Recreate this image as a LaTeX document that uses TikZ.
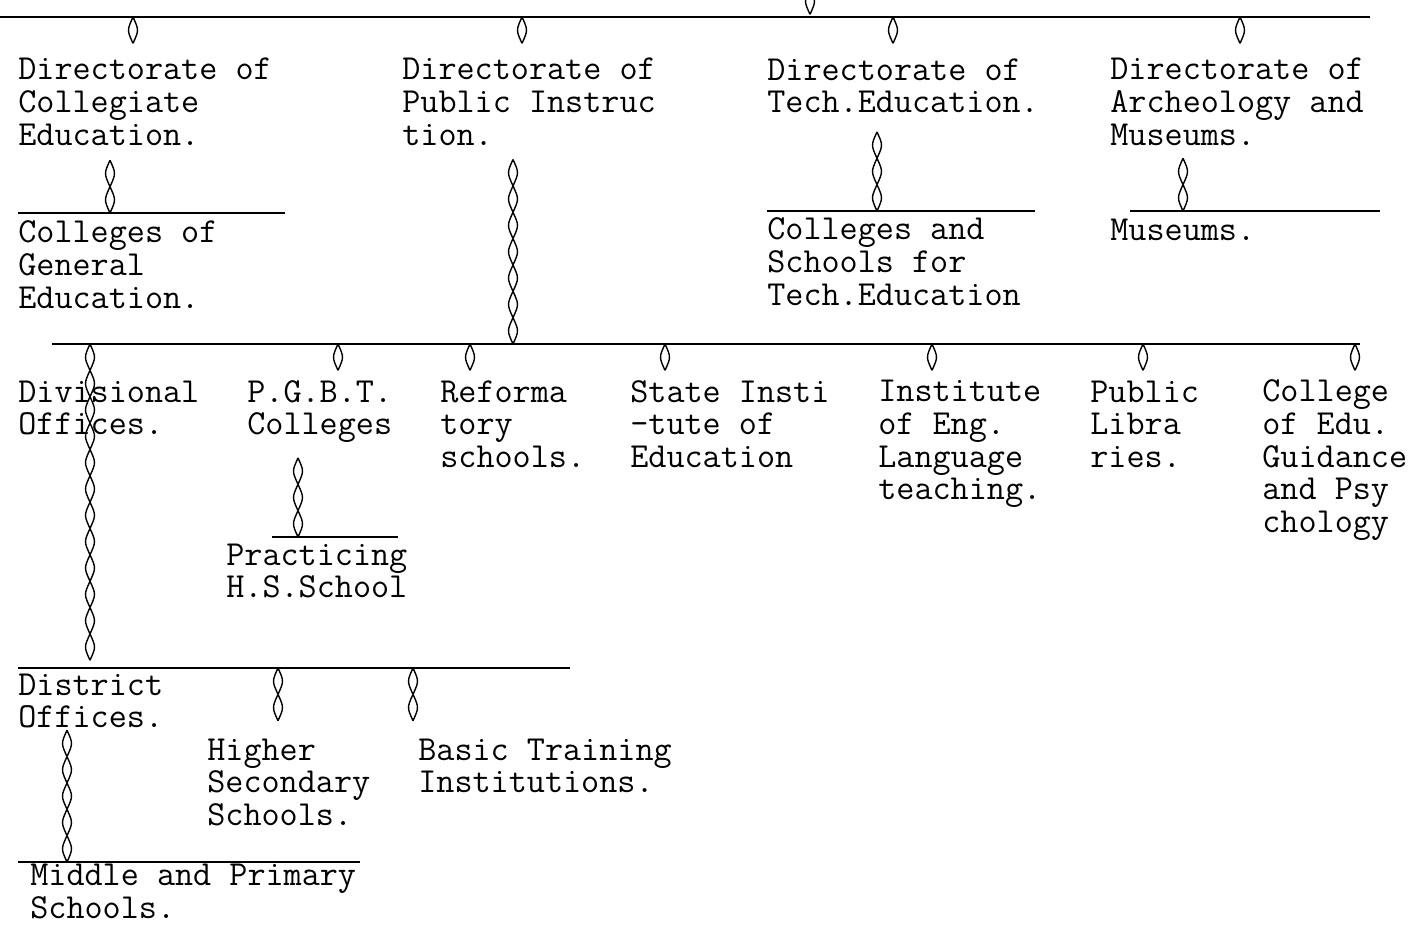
\documentclass[tikz,border=0pt]{standalone}
\usepackage{fontspec}
\usetikzlibrary{decorations.markings}

\begin{document}
\begin{tikzpicture}
	[x=0.02cm,y=-0.02cm,
	 box/.style={anchor=base west,align=left,inner sep=0pt,font=\ttfamily\fontsize{20}{18.5}\selectfont},
	 rule/.style={line width=1.2pt},
	 link/.style={draw=none,postaction={decorate,decoration={markings,
		mark=between positions 0 and -14pt step 15pt with {\draw[line width=0.8pt]
			(0pt,0pt) .. controls (7.5pt,3.4pt) .. (15pt,0pt)
			(0pt,0pt) .. controls (7.5pt,-3.4pt) .. (15pt,0pt);}}}}]

	\useasboundingbox (0,0) rectangle (1420,927);

	% directorates (placed at the baseline of their last line)
	\node[box] (dce) at (18,145) {Directorate of\\Collegiate\\Education.};
	\node[box] (dpi) at (402,145) {Directorate of\\Public Instruc\\tion.};
	\node[box] (dte) at (767,112.5) {Directorate of\\Tech.Education.};
	\node[box] (dam) at (1110,145) {Directorate of\\Archeology and\\Museums.};

	\node[box] (cge) at (18,308) {Colleges of\\General\\Education.};
	\node[box] (cte) at (767,305) {Colleges and\\Schools for\\Tech.Education};
	\node[box] (mus) at (1110,240) {Museums.};

	% under public instruction
	\node[box] (div) at (18,434.5) {Divisional\\Offices.};
	\node[box] (pgbt) at (247,434.5) {P.G.B.T.\\Colleges};
	\node[box] (ref) at (440,467) {Reforma\\tory\\schools.};
	\node[box] (sie) at (630,467) {State Insti\\-tute of\\Education};
	\node[box] (iel) at (878,499.5) {Institute\\of Eng.\\Language\\teaching.};
	\node[box] (lib) at (1090,467) {Public\\Libra\\ries.};
	\node[box] (cep) at (1262,532) {College\\of Edu.\\Guidance\\and Psy\\chology};

	\node[box] (phs) at (226,597.5) {Practicing\\H.S.School};
	\node[box] (dis) at (18,727.5) {District\\Offices.};
	\node[box] (hss) at (207,825) {Higher\\Secondary\\Schools.};
	\node[box] (bti) at (418,792.5) {Basic Training\\Institutions.};
	\node[box] (mps) at (30,918) {Middle and Primary\\Schools.};

	% rules
	\draw[rule] (0,17) -- (1370,17);
	\draw[rule] (18,213) -- (285,213);
	\draw[rule] (767,211) -- (1035,211);
	\draw[rule] (1130,211) -- (1380,211);
	\draw[rule] (52,344) -- (1360,344);
	\draw[rule] (272,537) -- (398,537);
	\draw[rule] (18,668) -- (570,668);
	\draw[rule] (18,862) -- (360,862);

	% joints on the rules
	\coordinate (top) at (810,-12);
	\coordinate (t0) at (810,17);
	\coordinate (t1) at (133,17);
	\coordinate (t2) at (522,17);
	\coordinate (t3) at (893,17);
	\coordinate (t4) at (1240,17);
	\coordinate (c1) at (110,213);
	\coordinate (c3) at (877,211);
	\coordinate (c4) at (1183,211);
	\coordinate (p0) at (513,344);
	\coordinate (p1) at (90,344);
	\coordinate (p2) at (338,344);
	\coordinate (p3) at (470,344);
	\coordinate (p4) at (665,344);
	\coordinate (p5) at (932,344);
	\coordinate (p6) at (1143,344);
	\coordinate (p7) at (1355,344);
	\coordinate (g1) at (298,537);
	\coordinate (d1) at (90,668);
	\coordinate (d2) at (278,668);
	\coordinate (d3) at (413,668);
	\coordinate (m1) at (67,862);

	% connectors, each from its rule
	\draw[link] (top) -- (t0);
	\draw[link] (t1) -- (t1 |- dce.north);
	\draw[link] (t2) -- (t2 |- dpi.north);
	\draw[link] (t3) -- (t3 |- dte.north);
	\draw[link] (t4) -- (t4 |- dam.north);
	\draw[link] (c1) -- (c1 |- dce.south);
	\draw[link] (c3) -- (c3 |- dte.south);
	\draw[link] (c4) -- (c4 |- dam.south);
	\draw[link] (p0) -- (p0 |- dpi.south);
	\draw[link] (p1) -- (d1);
	\draw[link] (p2) -- (p2 |- pgbt.north);
	\draw[link] (p3) -- (p3 |- ref.north);
	\draw[link] (p4) -- (p4 |- sie.north);
	\draw[link] (p5) -- (p5 |- iel.north);
	\draw[link] (p6) -- (p6 |- lib.north);
	\draw[link] (p7) -- (p7 |- cep.north);
	\draw[link] (g1) -- (g1 |- pgbt.south);
	\draw[link] (d2) -- (d2 |- hss.north);
	\draw[link] (d3) -- (d3 |- bti.north);
	\draw[link] (m1) -- (m1 |- dis.south);
\end{tikzpicture}
\end{document}
